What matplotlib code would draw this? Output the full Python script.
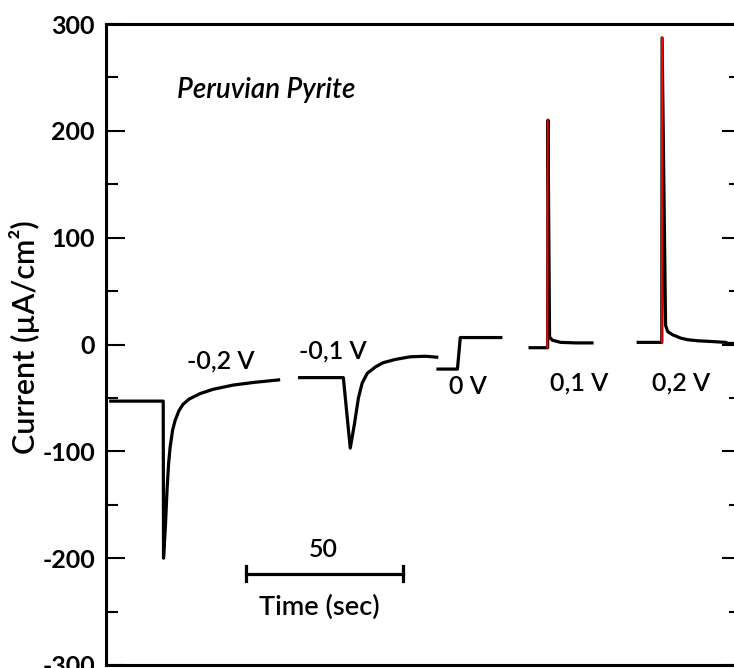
import matplotlib
matplotlib.use("Agg")
import matplotlib.pyplot as plt
from matplotlib.ticker import MultipleLocator

plt.rcParams['font.family'] = ['Lato', 'DejaVu Sans']
plt.rcParams['axes.unicode_minus'] = False

# chronoamperometry trace (time in s, current in uA/cm2)
t_m02 = [1.0, 18.2, 18.3, 18.9, 19.4, 19.9, 20.4, 21.2, 22.0, 23.2, 24.5, 26.5,
         29.9, 34.0, 40.4, 47.0, 55.4]
i_m02 = [-53, -53, -200, -170, -137, -112, -96, -80, -71, -62, -56, -51,
         -46, -42, -38, -35.5, -33]

t_m01 = [61.1, 75.5, 77.7, 79.0, 80.3, 81.5, 83.1, 85.7, 88.2, 92.0, 96.8, 101.6, 105.7]
i_m01 = [-31, -31, -97, -75, -50, -36, -27, -21, -17, -14, -11.5, -11, -12]

t_0 = [105.1, 111.8, 112.7, 126.1]
i_0 = [-23, -23, 6.5, 6.5]

t_p01 = [134.4, 140.5, 140.6, 141.1, 142.0, 144.6, 149.4, 155.1]
i_p01 = [-3, -3, 210, 7, 4, 2, 1.5, 1.5]

t_p02 = [168.8, 176.8, 176.9, 178.0, 178.7, 180.3, 182.8, 185.0, 188.2, 191.4, 197.1, 197.8, 200.0]
i_p02 = [2, 2, 287, 18, 12, 9, 6, 4.5, 3.5, 3, 2, 1, 1]

# rising edges drawn in red
rise_t = [[140.4, 140.5], [176.8, 176.9]]
rise_i = [[-3, 210], [2, 287]]

volt_labels = ['-0,2 V', '-0,1 V', '0 V', '0,1 V', '0,2 V']
volt_t = [36.6, 72.1, 115.0, 150.6, 183.0]
volt_i = [-15.5, -6, -39, -36, -36]

scale_t = [44.6, 94.6]   # 50 s scale bar
scale_i = -214.4

fig = plt.figure(figsize=(7.34, 6.68), dpi=100)
ax = fig.add_axes([106 / 734, 3 / 668, (741 - 106) / 734, (665 - 24) / 668])

for t, i in [(t_m02, i_m02), (t_m01, i_m01), (t_0, i_0), (t_p01, i_p01), (t_p02, i_p02)]:
    ax.plot(t, i, color='black', lw=2.3, solid_joinstyle='round', solid_capstyle='butt')

for t, i in zip(rise_t, rise_i):
    ax.plot(t, i, color='red', lw=1.4)

for lab, t, i in zip(volt_labels, volt_t, volt_i):
    ax.text(t, i, lab, ha='center', va='center', fontsize=18, fontweight='semibold')

# scale bar
ax.plot(scale_t, [scale_i, scale_i], color='black', lw=2.3)
for t in scale_t:
    ax.plot([t, t], [scale_i - 7, scale_i + 7], color='black', lw=2.3)
ax.text(sum(scale_t) / 2 - 0.5, -191.6, '50', ha='center', va='center',
        fontsize=18, fontweight='semibold')
ax.text(67.8, -246, 'Time (sec)', ha='center', va='center', fontsize=19.5,
        fontweight='semibold')

ax.text(51, 238, 'Peruvian Pyrite', ha='center', va='center', fontsize=20,
        style='italic', fontweight='semibold')

ax.set_xlim(0, 202)
ax.set_ylim(-300, 300)
ax.set_xticks([])
ax.yaxis.set_major_locator(MultipleLocator(100))
ax.yaxis.set_minor_locator(MultipleLocator(50))
ax.tick_params(axis='y', which='both', direction='in', left=True, right=True,
               labelleft=True, labelright=False, width=1.5, labelsize=18, pad=8)
ax.tick_params(axis='y', which='major', length=13.5)
ax.tick_params(axis='y', which='minor', length=8.5)
for lab in ax.get_yticklabels():
    lab.set_fontweight('bold')
for s in ax.spines.values():
    s.set_linewidth(2.2)

fig.text(25 / 734, 1 - 337 / 668, 'Current (µA/cm²)', rotation=90,
         ha='center', va='center', fontsize=22, fontweight='semibold')

fig.savefig('out.png', dpi=100)
